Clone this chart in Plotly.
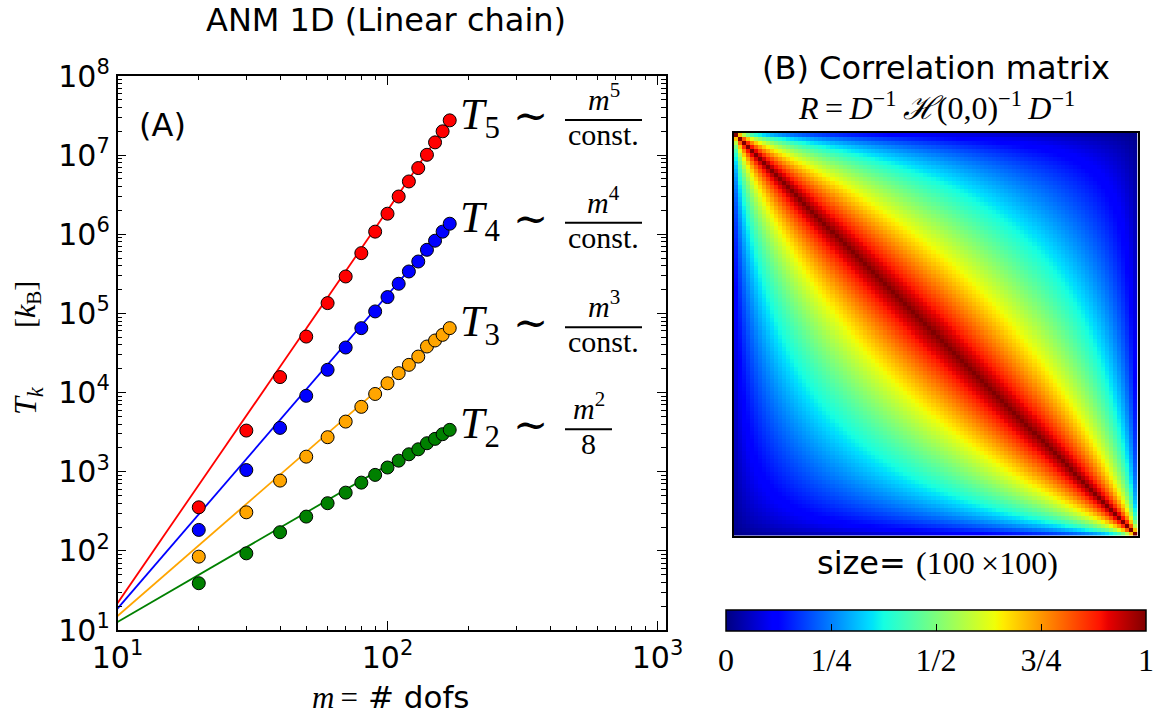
import numpy as np
import plotly.graph_objects as go

# ---------------- data ----------------
m_dofs = [20, 30, 40, 50, 60, 70, 80, 90, 100, 110, 120, 130, 140, 150, 160, 170]
T5_vals = [355, 3.31e3, 1.57e4, 5.1e4, 1.35e5, 2.93e5, 5.78e5, 1.08e6, 1.82e6, 3.0e6,
           4.65e6, 6.87e6, 1.01e7, 1.45e7, 2.0e7, 2.75e7]
T4_vals = [184, 1.05e3, 3.58e3, 9.1e3, 1.94e4, 3.71e4, 6.52e4, 1.06e5, 1.61e5, 2.37e5,
           3.39e5, 4.53e5, 6.37e5, 8.3e5, 1.08e6, 1.36e6]
T3_vals = [84.5, 307, 772, 1.55e3, 2.73e3, 4.3e3, 6.6e3, 9.6e3, 1.31e4, 1.76e4,
           2.24e4, 2.85e4, 3.82e4, 4.55e4, 5.36e4, 6.52e4]
T2_vals = [39, 93, 172, 271, 400, 544, 728, 912, 1.13e3, 1.38e3,
           1.66e3, 1.92e3, 2.29e3, 2.60e3, 2.98e3, 3.38e3]

# fitted power-law lines (end points)
fit_m = [10, 170]
fit_T5 = [21.8, 2.8e7]
fit_T4 = [18.6, 1.4e6]
fit_T3 = [15.0, 6.7e4]
fit_T2 = [12.6, 3.45e3]

x_major = [10, 100, 1000]
x_major_text = ["10<sup>1</sup>", "10<sup>2</sup>", "10<sup>3</sup>"]
y_major = [10 ** k for k in range(1, 9)]
y_major_text = ["10<sup>%d</sup>" % k for k in range(1, 9)]

cbar_vals = [0, 0.25, 0.5, 0.75, 1]
cbar_text = ["0", "1/4", "1/2", "3/4", "1"]

# correlation matrix R = D^-1 H(0,0)^-1 D^-1 of a 100-dof linear chain (fixed ends)
n_size = 100
H00 = 2 * np.eye(n_size) - np.eye(n_size, k=1) - np.eye(n_size, k=-1)
C = np.linalg.inv(H00)
dvec = np.sqrt(np.diag(C))
R = C / np.outer(dvec, dvec)

# ---------------- styling helpers ----------------
W, H = 1154, 714
def px(x):
    return x / W
def py(y):
    return 1 - y / H

# matplotlib "jet" colour map
jet_r = [(0, 0), (0.35, 0), (0.66, 1), (0.89, 1), (1, 0.5)]
jet_g = [(0, 0), (0.125, 0), (0.375, 1), (0.64, 1), (0.91, 0), (1, 0)]
jet_b = [(0, 0.5), (0.11, 1), (0.34, 1), (0.65, 0), (1, 0)]
stops = sorted(set([p[0] for p in jet_r + jet_g + jet_b]))
def ch(seg, s):
    return np.interp(s, [p[0] for p in seg], [p[1] for p in seg])
jet = [[s, "rgb(%d,%d,%d)" % (round(255 * ch(jet_r, s)), round(255 * ch(jet_g, s)), round(255 * ch(jet_b, s)))] for s in stops]

SANS = "DejaVu Sans"
SERIF = "Liberation Serif, DejaVu Serif, serif"

fig = go.Figure()

series = [
    (fit_T2, T2_vals, "#008000"),
    (fit_T3, T3_vals, "#ffa500"),
    (fit_T4, T4_vals, "#0000ff"),
    (fit_T5, T5_vals, "#ff0000"),
]
for fit, vals, col in series:
    fig.add_trace(go.Scatter(x=fit_m, y=fit, mode="lines", line=dict(color=col, width=1.8),
                             xaxis="x", yaxis="y", hoverinfo="skip"))
    fig.add_trace(go.Scatter(x=m_dofs, y=vals, mode="markers",
                             marker=dict(color=col, size=13, line=dict(color="black", width=1)),
                             xaxis="x", yaxis="y"))

fig.add_trace(go.Heatmap(
    z=R, xaxis="x2", yaxis="y2", colorscale=jet, zmin=0, zmax=1, zsmooth=False,
    colorbar=dict(orientation="h", x=px(936), xanchor="center", y=py(609.5), yanchor="top",
                  len=420 / W, lenmode="fraction", thickness=21, thicknessmode="pixels",
                  outlinewidth=1.5, outlinecolor="black", xpad=0, ypad=0,
                  tickmode="array", tickvals=cbar_vals, ticktext=cbar_text,
                  ticks="inside", ticklen=7, tickcolor="black", tickwidth=1,
                  tickfont=dict(family=SERIF, size=32, color="black")),
))

minor_x = [k * 10 ** e for e in (1, 2) for k in range(2, 10)]
minor_y = [k * 10 ** e for e in range(1, 8) for k in range(2, 10)]

axis_common = dict(showline=True, linecolor="black", linewidth=1.5, mirror="allticks",
                   ticks="inside", ticklen=9, tickwidth=1.2, tickcolor="black",
                   showgrid=False, zeroline=False, automargin=False,
                   tickfont=dict(family=SANS, size=30, color="black"))

fig.update_layout(
    width=W, height=H, margin=dict(l=0, r=0, t=0, b=0, autoexpand=False),
    paper_bgcolor="white", plot_bgcolor="white", showlegend=False,
    xaxis=dict(type="log", domain=[px(117.5), px(665.5)], range=[1, 1 + (665.5 - 117.5) / 270],
               tickmode="array", tickvals=x_major, ticktext=x_major_text, anchor="y",
               minor=dict(ticks="inside", ticklen=4.5, tickcolor="black", tickmode="array",
                          tickvals=minor_x, showgrid=False),
               **axis_common),
    yaxis=dict(type="log", domain=[py(630), py(76)], range=[1, 8],
               tickmode="array", tickvals=y_major, ticktext=y_major_text, anchor="x",
               minor=dict(ticks="inside", ticklen=4.5, tickcolor="black", tickmode="array",
                          tickvals=minor_y, showgrid=False),
               **axis_common),
    xaxis2=dict(domain=[px(733.5), px(1137.5)], range=[-0.5, n_size - 0.5], anchor="y2",
                showticklabels=False, ticks="", showline=True, mirror=True, automargin=False,
                linecolor="black", linewidth=1.5, showgrid=False, zeroline=False),
    yaxis2=dict(domain=[py(535.5), py(133)], range=[n_size - 0.5, -0.5], anchor="x2",
                showticklabels=False, ticks="", showline=True, mirror=True, automargin=False,
                linecolor="black", linewidth=1.5, showgrid=False, zeroline=False),
)

ann = []
def A(text, x, y, size, family, xanchor="center", yanchor="middle", angle=0):
    ann.append(dict(text=text, x=px(x), y=py(y), xref="paper", yref="paper",
                    xanchor=xanchor, yanchor=yanchor, showarrow=False, textangle=angle,
                    font=dict(family=family, size=size, color="black")))

A("ANM 1D (Linear chain)", 386, 20, 32, SANS)
A("(A)", 137, 125, 32, SANS, xanchor="left")
A("(B) Correlation matrix", 936, 68, 32, SANS)
A("<i>R</i>\u2009=\u2009<i>D</i><sup>\u22121</sup>\u2009<i>\u210b</i>(0,0)<sup>\u22121</sup>\u2009<i>D</i><sup>\u22121</sup>",
  936, 106, 32, SERIF)
A("size= <span style='font-family:Liberation Serif'>(100\u2009\u00d7100)</span>", 937, 563, 32, SANS)
A("<span style='font-family:Liberation Serif'><i>m</i>\u2009=</span> # dofs", 391, 697, 31, SANS)
A("<i>T</i><sub><i>k</i></sub>", 27, 401, 32, SERIF, angle=-90)
A("[<i>k</i><sub>B</sub>]", 27, 305, 30, SERIF, angle=-90)

shapes = []
rows = [
    ("5", "const.", 120.0, 565, 642),
    ("4", "const.", 222.7, 565, 642),
    ("3", "const.", 327.3, 565, 642),
    ("2", "8", 429.3, 565, 612),
]
for k, den, ly, x0, x1 in rows:
    xc = (x0 + x1) / 2
    A("<i>T</i><sub>%s</sub>" % k, 458, ly - 32, 44, SERIF, xanchor="left", yanchor="top")
    A("\u223c", 530, ly - 4, 42, SERIF)
    A("<i>m</i><sup>%s</sup>" % k, xc, ly - 2, 30, SERIF, yanchor="bottom")
    A(den, xc, ly - 4, 30, SERIF, yanchor="top")
    shapes.append(dict(type="line", xref="paper", yref="paper", x0=px(x0), x1=px(x1),
                       y0=py(ly), y1=py(ly), line=dict(color="black", width=2)))

fig.update_layout(annotations=ann, shapes=shapes)
fig.write_html("out.html")
